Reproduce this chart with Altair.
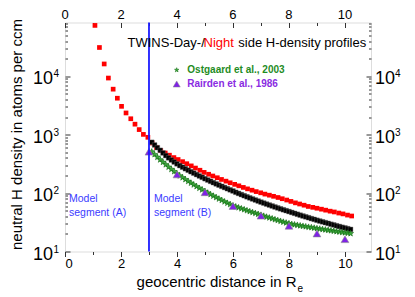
import altair as alt
import pandas as pd

FONT = "Liberation Sans"
W, H = 306, 229

# ---------------- data ----------------
red_x = [1.07, 1.23, 1.40, 1.55, 1.72, 1.87, 2.02, 2.18, 2.35, 2.50,
         2.65, 2.80, 2.96, 3.11, 3.27, 3.42, 3.58, 3.73, 3.89, 4.04,
         4.20, 4.35, 4.51, 4.66, 4.82, 4.97, 5.13, 5.28, 5.44, 5.59,
         5.75, 5.90, 6.06, 6.21, 6.37, 6.52, 6.68, 6.83, 6.99, 7.14,
         7.30, 7.45, 7.61, 7.76, 7.92, 8.07, 8.23, 8.38, 8.54, 8.69,
         8.85, 9.00, 9.16, 9.31, 9.47, 9.62, 9.78, 9.93, 10.09, 10.24]
red_y = [74000, 31000, 16200, 9300, 6000, 4200, 3050, 2350, 1870, 1510,
         1220, 1010, 900, 720, 600, 535, 485, 445, 405, 375,
         345, 318, 292, 268, 246, 226, 210, 196, 183, 171,
         160, 150, 141, 133, 125, 118, 112, 106, 101, 96,
         92, 88, 84, 80, 76, 72, 68, 65, 62, 59,
         57, 55, 53, 51, 49, 47.5, 45.5, 44, 42, 40.5]

bg_x = [3.1, 3.2, 3.3, 3.4, 3.5, 3.6, 3.7, 3.8, 3.9, 4.0,
        4.1, 4.2, 4.3, 4.4, 4.5, 4.6, 4.7, 4.8, 4.9, 5.0,
        5.1, 5.2, 5.3, 5.4, 5.5, 5.6, 5.7, 5.8, 5.9, 6.0,
        6.1, 6.2, 6.3, 6.4, 6.5, 6.6, 6.7, 6.8, 6.9, 7.0,
        7.1, 7.2, 7.3, 7.4, 7.5, 7.6, 7.7, 7.8, 7.9, 8.0,
        8.1, 8.2, 8.3, 8.4, 8.5, 8.6, 8.7, 8.8, 8.9, 9.0,
        9.1, 9.2, 9.3, 9.4, 9.5, 9.6, 9.7, 9.8, 9.9, 10.0,
        10.1, 10.2]
black_y = [740, 665, 598, 540, 486, 438, 400, 368, 340, 316,
           295, 277, 261, 246, 232, 219, 207, 196, 186, 176,
           167, 158.6, 150.8, 143.5, 136.7, 130.3, 124.4, 118.8, 113.5, 108.6,
           103.1, 98.5, 94.2, 90.1, 86.3, 82.7, 79.3, 76.1, 73.0, 70.1,
           67.4, 64.8, 62.4, 60.1, 57.8, 55.7, 53.7, 51.8, 50.0, 48.3,
           46.6, 45.0, 43.4, 41.9, 40.5, 39.2, 37.9, 36.6, 35.5, 34.3,
           33.2, 32.2, 31.2, 30.3, 29.3, 28.5, 27.6, 26.8, 26.0, 25.3,
           24.6, 23.9]
green_y = [510, 458, 412, 372, 338, 307, 279, 255, 234, 214,
           198, 184, 171, 159, 148.5, 138.8, 129.8, 121.6, 114.1, 107.1,
           100.6, 94.7, 89.3, 84.3, 79.6, 75.3, 71.3, 67.5, 64.1, 60.8,
           58.6, 56.4, 54.3, 52.3, 50.3, 48.5, 46.8, 45.2, 43.6, 42.1,
           40.5, 39.1, 37.8, 36.6, 35.3, 34.2, 33.1, 32.0, 31.0, 30.1,
           29.4, 28.8, 28.3, 27.7, 27.2, 26.7, 26.2, 25.8, 25.3, 24.8,
           24.4, 24.0, 23.6, 23.2, 22.8, 22.4, 22.0, 21.7, 21.3, 21.0,
           20.7, 20.3]

tri_x = [3, 4, 5, 6, 7, 8, 9, 10]
tri_y = [510, 208, 103, 60, 41, 27.5, 20.3, 16.2]

boundary_x = [3]

x_ticks = [0, 1, 2, 3, 4, 5, 6, 7, 8, 9, 10]
x_labels = [0, 2, 4, 6, 8, 10]
y_ticks = [10, 20, 30, 40, 50, 60, 70, 80, 90,
           100, 200, 300, 400, 500, 600, 700, 800, 900,
           1000, 2000, 3000, 4000, 5000, 6000, 7000, 8000, 9000,
           10000, 20000, 30000, 40000, 50000, 60000, 70000, 80000]
y_label_vals = [10, 100, 1000, 10000]
y_label_exp = ["1", "2", "3", "4"]

# ---------------- scales / axes ----------------
xs = alt.Scale(domain=[0, 10.93], nice=False, zero=False)
ys = alt.Scale(type="log", domain=[10, 83000], nice=False)

x_major = "datum.value % 2 == 0"
y_major = "datum.value == 10 || datum.value == 100 || datum.value == 1000 || datum.value == 10000"
x_tick_size = {"condition": {"test": x_major, "value": 5}, "value": 3}
y_tick_size = {"condition": {"test": y_major, "value": 5}, "value": 2.5}

df_red = pd.DataFrame({"x": red_x, "y": red_y})
df_black = pd.DataFrame({"x": bg_x, "y": black_y})
df_green = pd.DataFrame({"x": bg_x, "y": green_y})
df_tri = pd.DataFrame({"x": tri_x, "y": tri_y})
df_rule = pd.DataFrame({"x": boundary_x})
df_ylab = pd.DataFrame({"v": y_label_vals, "e": y_label_exp})
df_xlab = pd.DataFrame({"v": x_labels, "t": [str(v) for v in x_labels]})
df_one = pd.DataFrame({"a": [0]})

STAR = ("M0,-1L0.24,-0.33L0.95,-0.31L0.38,0.12L0.59,0.81L0,0.4L-0.59,0.81"
        "L-0.38,0.12L-0.95,-0.31L-0.24,-0.33Z")

red = alt.Chart(df_red).mark_square(size=22, color="#ff0000", opacity=1).encode(
    x=alt.X("x:Q", scale=xs, axis=alt.Axis(
        orient="bottom", values=x_ticks,
        labelExpr="datum.value % 2 == 0 ? datum.label : ''",
        tickSize=x_tick_size, tickColor="#333", labelFontSize=13,
        labelFont=FONT, labelColor="#000", labelPadding=1,
        domain=False, grid=False, title=None)),
    y=alt.Y("y:Q", scale=ys, axis=None),
)

black = alt.Chart(df_black).mark_square(size=22, color="#000000", opacity=1,
                                        stroke="#666", strokeWidth=0.4).encode(
    x=alt.X("x:Q", scale=xs, axis=None),
    y=alt.Y("y:Q", scale=ys, axis=None),
)

green = alt.Chart(df_green).mark_point(shape=STAR, size=40, filled=True,
                                       fill="#3aa83a", stroke="#136b13",
                                       strokeWidth=0.6, opacity=1).encode(
    x=alt.X("x:Q", scale=xs, axis=alt.Axis(
        orient="bottom", offset=-H, values=x_ticks, labels=False,
        domain=False, grid=False, tickSize=x_tick_size, tickColor="#333",
        title=None)),
    y=alt.Y("y:Q", scale=ys, axis=alt.Axis(
        orient="right", offset=-W, values=y_ticks, labels=False, domain=False,
        grid=False, tickSize=y_tick_size, tickColor="#333", title=None)),
)

tri = alt.Chart(df_tri).mark_point(shape="triangle-up", size=60, filled=True,
                                   fill="#7f22e6", stroke="#8a8a8a",
                                   strokeWidth=0.6, opacity=1).encode(
    x=alt.X("x:Q", scale=xs, axis=None),
    y=alt.Y("y:Q", scale=ys, axis=alt.Axis(
        orient="left", offset=-W, values=y_ticks, labels=False, domain=False,
        grid=False, tickSize=y_tick_size, tickColor="#333", title=None)),
)

rule = alt.Chart(df_rule).mark_rule(color="#1c1cff", strokeWidth=1.8).encode(
    x=alt.X("x:Q", scale=xs, axis=None),
    y=alt.value(0), y2=alt.value(H),
)


def label(text, x, y, size=11, color="#000", align="left", weight="normal",
          baseline="middle", angle=0):
    return alt.Chart(df_one).mark_text(
        text=text, font=FONT, fontSize=size, color=color, align=align,
        fontWeight=weight, baseline=baseline, angle=angle,
    ).encode(x=alt.value(x), y=alt.value(y))


ylab_l10 = alt.Chart(df_ylab).mark_text(text="10", font=FONT, fontSize=18,
                                         align="right", baseline="middle",
                                         dy=3, color="#000").encode(
    x=alt.value(-12), y=alt.Y("v:Q", scale=ys, axis=None))
ylab_lexp = alt.Chart(df_ylab).mark_text(font=FONT, fontSize=10, align="left",
                                          baseline="middle", dy=-2,
                                          color="#000").encode(
    x=alt.value(-11.5), y=alt.Y("v:Q", scale=ys, axis=None), text="e:N")
ylab_r10 = alt.Chart(df_ylab).mark_text(text="10", font=FONT, fontSize=18,
                                         align="left", baseline="middle",
                                         dy=3, color="#000").encode(
    x=alt.value(310), y=alt.Y("v:Q", scale=ys, axis=None))
ylab_rexp = alt.Chart(df_ylab).mark_text(font=FONT, fontSize=10, align="left",
                                          baseline="middle", dy=-2,
                                          color="#000").encode(
    x=alt.value(330), y=alt.Y("v:Q", scale=ys, axis=None), text="e:N")

xlab_top = alt.Chart(df_xlab).mark_text(font=FONT, fontSize=13,
                                         align="center", baseline="middle",
                                         color="#000").encode(
    x=alt.X("v:Q", scale=xs, axis=None), y=alt.value(-7.5), text="t:N")

texts = [
    label("neutral H density in atoms per ccm", -48.5, 112, size=15,
          angle=270, align="center"),
    label("TWINS-Day-/", 62.5, 20.2, size=13),
    label("Night", 138.5, 20.2, size=13, color="#ff0000"),
    label("side H-density profiles", 173.3, 20.2, size=13),
    label("Ostgaard et al., 2003", 122.3, 47.5, size=10, color="#1f8c1f",
          weight="bold"),
    label("Rairden et al., 1986", 122.3, 61.5, size=10, color="#8a2be2",
          weight="bold"),
    label("Model", 4, 176.8, size=10.5, color="#3b3bff"),
    label("segment (A)", 4, 190.2, size=10.5, color="#3b3bff"),
    label("Model", 89, 176.8, size=10.5, color="#3b3bff"),
    label("segment (B)", 89, 190.2, size=10.5, color="#3b3bff"),
    label("geocentric distance in R", 231.7, 264.2, size=15, align="right",
          baseline="alphabetic"),
    label("e", 232.5, 269.2, size=10, baseline="alphabetic"),
]

leg_star = alt.Chart(df_one).mark_point(shape=STAR, size=22, filled=True,
                                        fill="#3aa83a", stroke="#136b13",
                                        strokeWidth=0.5, opacity=1).encode(
    x=alt.value(111.7), y=alt.value(47.5))
leg_tri = alt.Chart(df_one).mark_point(shape="triangle-up", size=50,
                                       filled=True, fill="#7f22e6",
                                       stroke="#8a8a8a", strokeWidth=0.5,
                                       opacity=1).encode(
    x=alt.value(111.7), y=alt.value(61.5))

chart = alt.layer(
    red, black, green, tri, rule,
    ylab_l10, ylab_lexp, ylab_r10, ylab_rexp, xlab_top,
    leg_star, leg_tri, *texts,
).resolve_axis(
    x="independent", y="independent"
).properties(
    width=W, height=H,
    autosize=alt.AutoSizeParams(type="none"),
    padding={"left": 57, "top": 14.5, "right": 36, "bottom": 45},
).configure_view(
    stroke="#333", strokeWidth=1
).configure(
    background="white"
)

chart.save("out.html", embed_options={"renderer": "svg", "actions": False})
